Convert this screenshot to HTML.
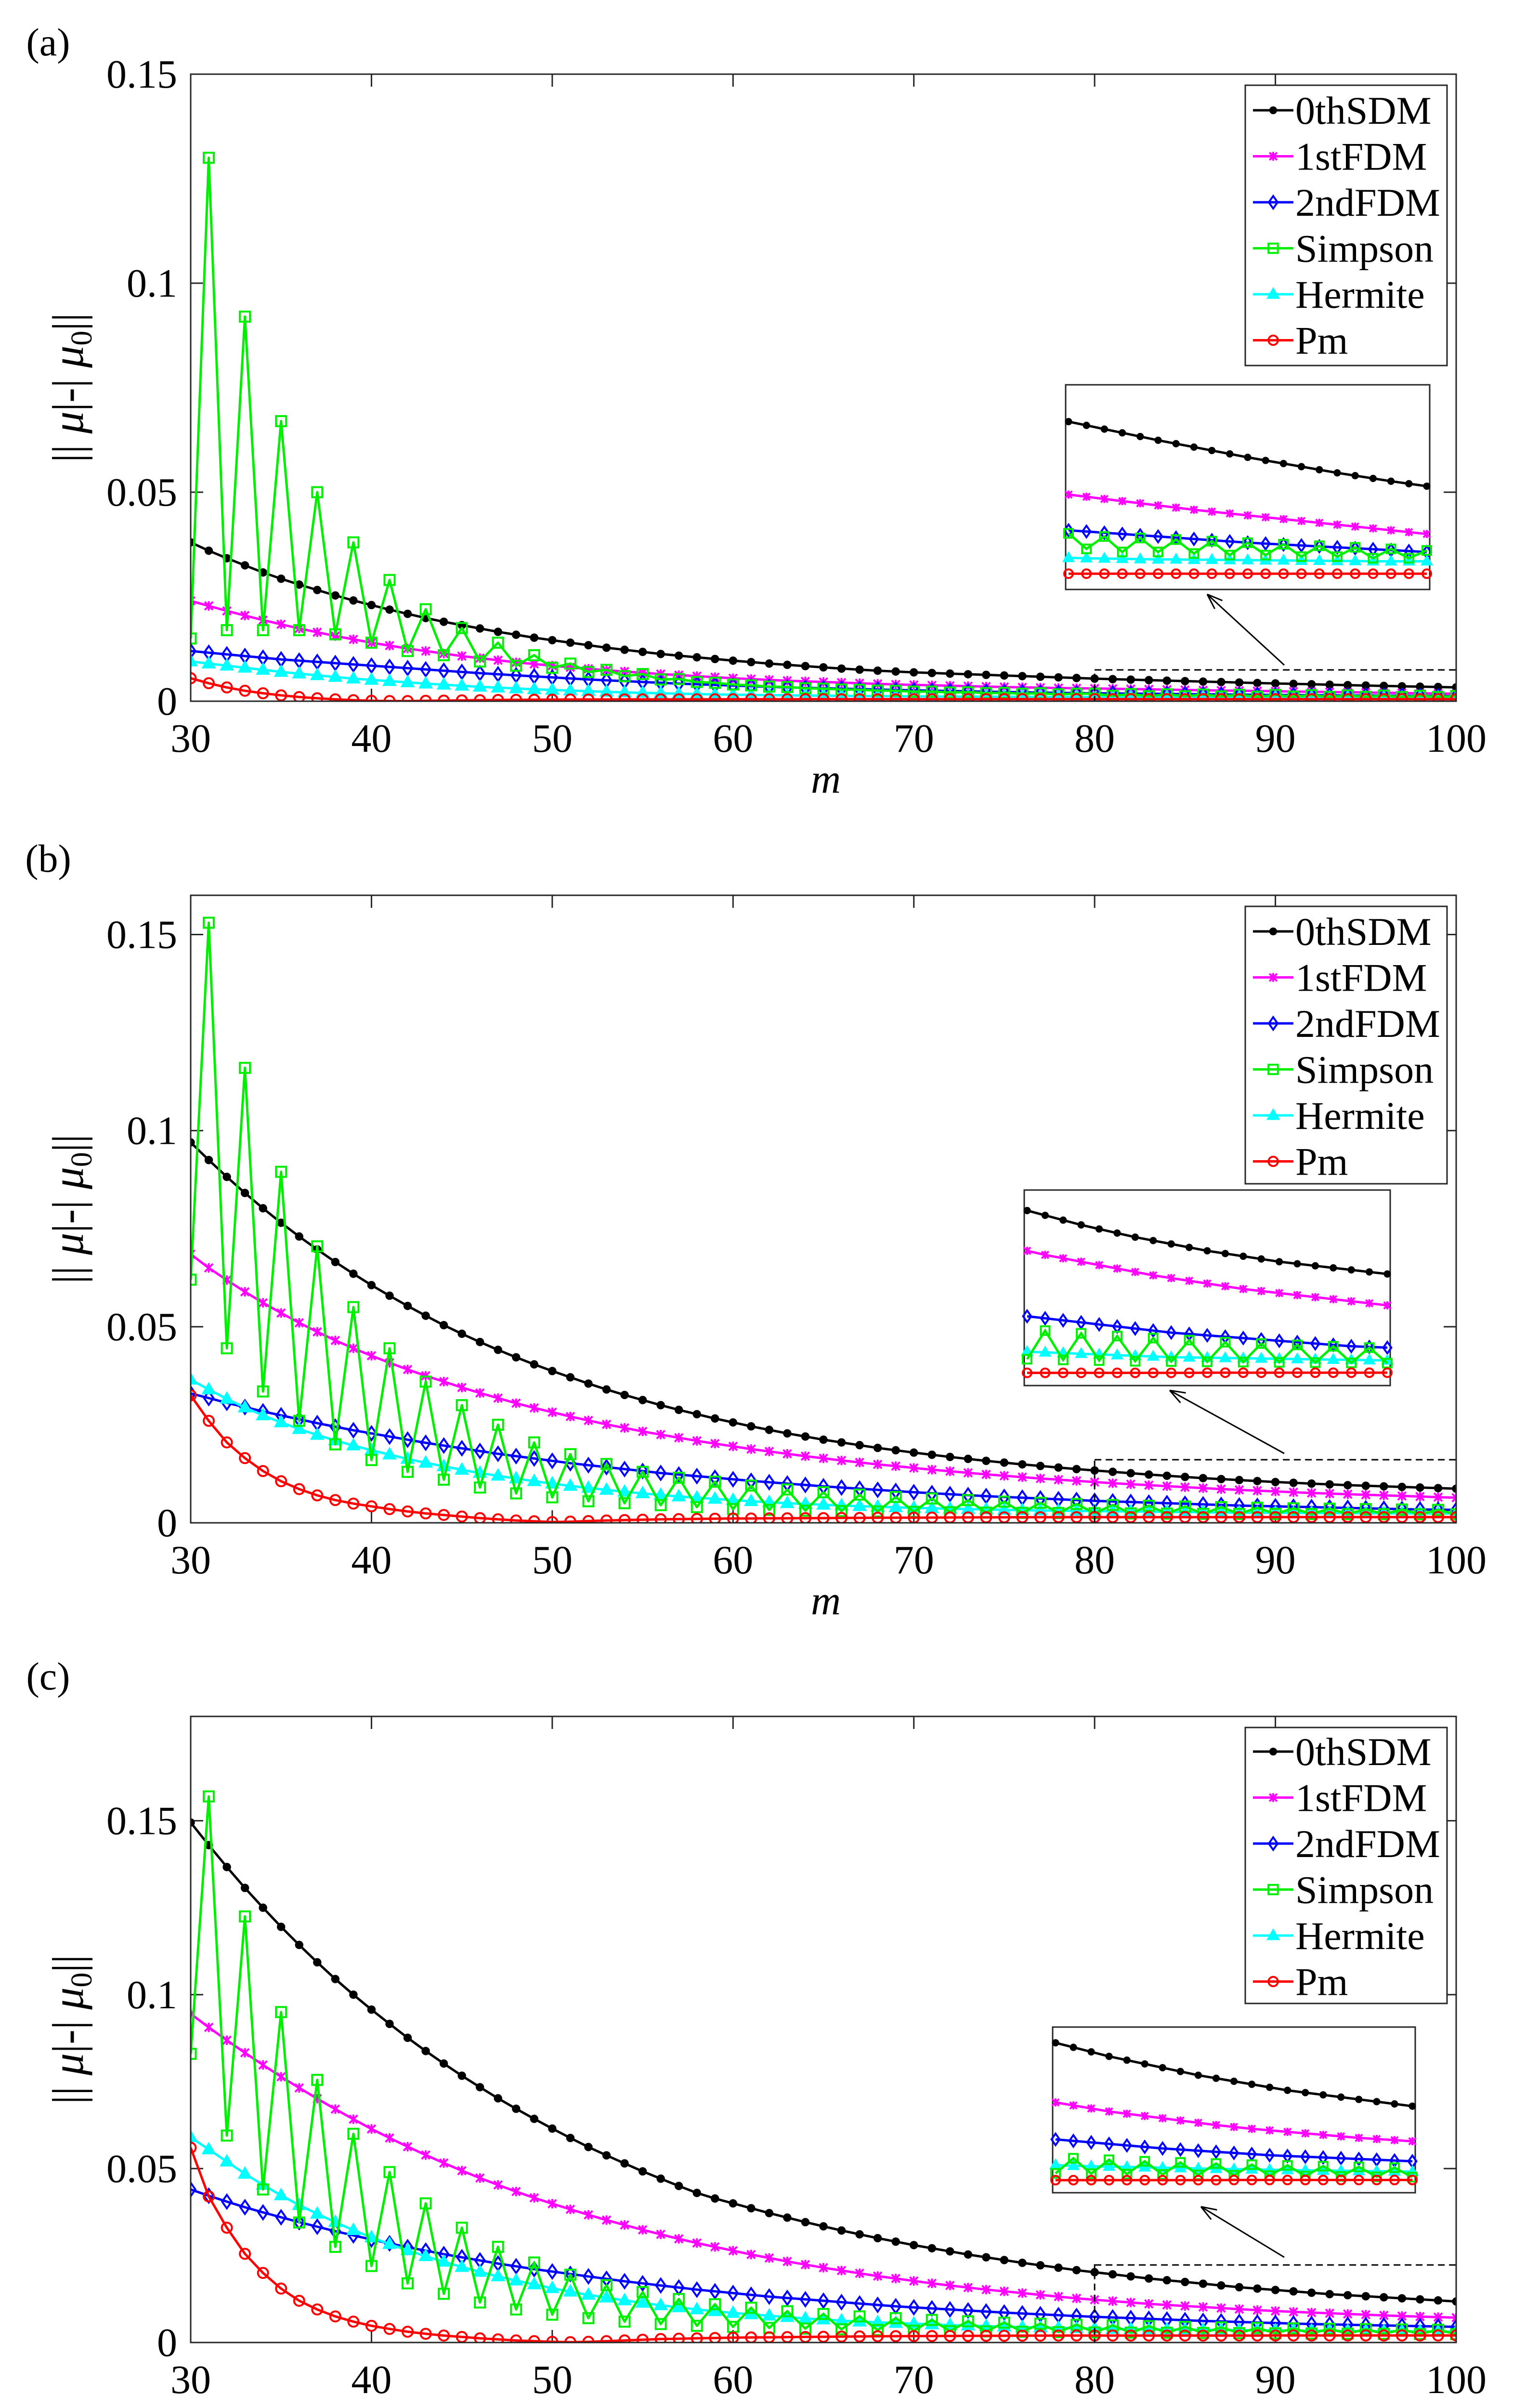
<!DOCTYPE html>
<html><head><meta charset="utf-8"><style>
html,body{margin:0;padding:0;background:#fff;width:3142px;height:5132px;overflow:hidden;}
svg{display:block;}
text{font-family:"Liberation Serif",serif;fill:#000;}
</style></head><body>
<svg id="fig" width="3142" height="5132" viewBox="0 0 3142 5132" xmlns="http://www.w3.org/2000/svg"></svg>
<script>
// m values 30..100
const mValues = [];
for (let m = 30; m <= 100; m++) mValues.push(m);
const seriesNames = ["0thSDM","1stFDM","2ndFDM","Simpson","Hermite","Pm"];
const xTicks = [30,40,50,60,70,80,90,100];

// Panel (a) values (units of 1e-3)
const aSDM0 = [38,36,34.2,32.5,30.8,29.3,27.9,26.6,25.3,24.1, 23,21.9,20.9,19.9,19,18.2,17.4,16.6,15.9,15.2, 14.6,14,13.4,12.8,12.3,11.8,11.3,10.9,10.5,10.1, 9.7,9.35,9,8.7,8.4,8.1,7.8,7.55,7.3,7.1, 6.9,6.75,6.6,6.45,6.3,6.15,6,5.85,5.7,5.55, 5.4,5.28,5.16,5.04,4.92,4.8,4.69,4.58,4.47,4.36, 4.25,4.15,4.05,3.95,3.85,3.75,3.66,3.57,3.48,3.4, 3.32];
const aFDM1 = [24,22.8,21.6,20.5,19.4,18.4,17.4,16.5,15.6,14.8, 14,13.3,12.6,12,11.4,10.8,10.3,9.8,9.3,8.9, 8.5,8.1,7.75,7.4,7.1,6.8,6.5,6.25,6,5.75, 5.5,5.3,5.1,4.9,4.75,4.6,4.45,4.3,4.15,4, 3.9,3.8,3.7,3.6,3.5,3.4,3.32,3.24,3.16,3.1, 3.05,2.98,2.91,2.84,2.77,2.7,2.63,2.56,2.5,2.44, 2.38,2.32,2.26,2.2,2.14,2.08,2.02,1.96,1.9,1.84, 1.78];
const aFDM2 = [12,11.6,11.2,10.8,10.4,10,9.7,9.4,9.1,8.8, 8.5,8.2,7.9,7.6,7.3,7,6.7,6.45,6.2,5.95, 5.7,5.45,5.2,5,4.8,4.6,4.4,4.2,4.05,3.9, 3.75,3.6,3.45,3.3,3.2,3.1,3,2.9,2.8,2.7, 2.6,2.52,2.44,2.36,2.28,2.2,2.13,2.06,2,1.95, 1.9,1.86,1.82,1.78,1.74,1.7,1.66,1.62,1.58,1.54, 1.5,1.47,1.44,1.41,1.38,1.35,1.32,1.29,1.26,1.23, 1.2];
const aSimp = [15,130,17,92,17,67,17,50,16,38, 14,29,12,22,11,17.5,9.5,14,8.5,11, 8,9,7,7.5,6,6.5,5.2,5.3,4.6,4.4, 4,3.8,3.5,3.4,3.1,3,2.8,2.75,2.55,2.5, 2.3,2.3,2.1,2.15,1.95,2,1.8,1.9,1.65,1.8, 1.8,1.3,1.7,1.2,1.65,1.2,1.6,1.15,1.55,1.1, 1.5,1.1,1.45,1.05,1.4,1.05,1.35,1,1.3,1, 1.25];
const aHerm = [9.5,9,8.5,8,7.5,7,6.6,6.2,5.8,5.4, 5.1,4.8,4.5,4.2,3.95,3.7,3.45,3.25,3.05,2.85, 2.7,2.55,2.4,2.25,2.1,2,1.9,1.8,1.7,1.62, 1.55,1.5,1.45,1.4,1.36,1.32,1.28,1.25,1.22,1.19, 1.16,1.14,1.12,1.1,1.08,1.06,1.05,1.04,1.03,1.02, 1.01,1,0.99,0.98,0.97,0.96,0.96,0.95,0.95,0.94, 0.94,0.93,0.93,0.92,0.92,0.91,0.91,0.9,0.9,0.9, 0.9];
const aPm = [5.5,4.3,3.3,2.5,1.9,1.4,1,0.7,0.45,0.25, 0.1,0.05,0.05,0.1,0.15,0.2,0.25,0.3,0.33,0.36, 0.38,0.4,0.41,0.42,0.43,0.44,0.45,0.45,0.46,0.46, 0.47,0.47,0.47,0.47,0.48,0.48,0.48,0.48,0.48,0.48, 0.49,0.49,0.49,0.49,0.49,0.49,0.49,0.49,0.49,0.49, 0.5,0.5,0.5,0.5,0.5,0.5,0.5,0.5,0.5,0.5, 0.5,0.5,0.5,0.5,0.5,0.5,0.5,0.5,0.5,0.5, 0.5];

// Panel (b)
const bSDM0 = [97,92.5,88.2,84.1,80.2,76.5,73,69.7,66.5,63.5, 60.6,57.9,55.3,52.8,50.4,48.2,46.1,44.1,42.2,40.4, 38.7,37.1,35.5,34,32.6,31.3,30,28.8,27.7,26.6, 25.6,24.6,23.7,22.8,22,21.2,20.5,19.8,19.1,18.5, 17.9,17.35,16.8,16.3,15.8,15.35,14.9,14.5,14.1,13.7, 13.35,13,12.65,12.3,12,11.7,11.4,11.15,10.9,10.65, 10.4,10.2,10,9.8,9.6,9.45,9.3,9.15,9,8.85, 8.7];
const bFDM1 = [68.5,65,61.9,58.9,56.1,53.5,51,48.7,46.5,44.5, 42.6,40.8,39.1,37.5,36,34.5,33.1,31.8,30.5,29.3, 28.2,27.1,26.1,25.1,24.2,23.3,22.5,21.7,20.9,20.2, 19.5,18.8,18.2,17.6,17,16.45,15.9,15.4,14.9,14.45, 14,13.55,13.15,12.75,12.35,12,11.65,11.3,11,10.7, 10.4,10.1,9.85,9.6,9.35,9.1,8.85,8.6,8.4,8.2, 8,7.8,7.6,7.45,7.3,7.15,7,6.85,6.7,6.55, 6.4];
const bFDM2 = [33,31.8,30.6,29.5,28.4,27.4,26.4,25.4,24.5,23.6, 22.8,22,21.2,20.4,19.7,19,18.3,17.6,17,16.4, 15.8,15.2,14.7,14.2,13.7,13.2,12.7,12.3,11.9,11.5, 11.1,10.7,10.35,10,9.65,9.3,9,8.7,8.4,8.1, 7.8,7.55,7.3,7.05,6.8,6.6,6.4,6.2,6,5.8, 5.6,5.45,5.3,5.15,5,4.85,4.7,4.55,4.4,4.3, 4.2,4.1,4,3.9,3.8,3.7,3.6,3.5,3.4,3.35, 3.3];
const bSimp = [62,153,44.5,116,33.5,89.5,26,70.5,20,55, 16,44.5,13,36,11,30,9,25,7.5,20.5, 6.5,17.5,5.5,15,5,13,4.5,11.5,4,10.5, 3.5,9.5,3.3,8.5,3.1,7.8,3,7.2,2.9,6.6, 2.8,6.2,2.7,5.8,2.6,5.4,2.55,5.1,2.5,4.8, 2.45,4.55,2.4,4.35,2.35,4.15,2.3,4,2.28,3.85, 2.26,3.7,2.24,3.6,2.22,3.5,2.2,3.4,2.18,3.3, 2.16];
const bHerm = [36.5,34,31.6,29.4,27.4,25.6,23.9,22.4,21,19.7, 18.5,17.4,16.3,15.3,14.4,13.5,12.7,12,11.3,10.6, 10,9.4,8.9,8.4,7.9,7.5,7.1,6.7,6.4,6.1, 5.8,5.5,5.25,5,4.8,4.6,4.4,4.25,4.1,3.95, 3.8,3.7,3.6,3.5,3.4,3.3,3.2,3.15,3.1,3.05, 3,2.95,2.9,2.85,2.8,2.75,2.7,2.65,2.6,2.58, 2.56,2.54,2.52,2.5,2.48,2.46,2.44,2.42,2.4,2.38, 2.36];
const bPm = [32.5,26,20.5,16.5,13.2,10.6,8.6,7,5.8,4.9, 4.2,3.5,2.9,2.4,2,1.6,1.2,0.9,0.6,0.4, 0.2,0.3,0.45,0.6,0.7,0.8,0.9,0.95,1,1.05, 1.1,1.1,1.15,1.15,1.2,1.2,1.25,1.25,1.3,1.3, 1.32,1.34,1.36,1.38,1.4,1.4,1.42,1.42,1.44,1.44, 1.45,1.45,1.45,1.45,1.45,1.45,1.45,1.45,1.45,1.45, 1.46,1.46,1.46,1.46,1.46,1.46,1.46,1.46,1.46,1.46, 1.46];

// Panel (c)
const cSDM0 = [149.5,143,136.7,130.7,125,119.5,114.3,109.3,104.5,100, 95.7,91.6,87.6,83.8,80.2,76.7,73.4,70.2,67.2,64.3, 61.5,58.8,56.2,53.8,51.5,49.2,47.1,45,43,41.4, 40,38.6,37.2,35.9,34.6,33.4,32.2,31.1,30,29, 28,27.1,26.2,25.3,24.5,23.7,22.9,22.2,21.5,20.8, 20.2,19.6,19,18.4,17.9,17.4,16.9,16.4,15.9,15.5, 15.1,14.7,14.3,13.9,13.6,13.3,13,12.7,12.4,12.1, 11.8];
const cFDM1 = [94.5,90.6,86.9,83.3,79.8,76.4,73.2,70.1,67.1,64.2, 61.4,58.8,56.3,53.9,51.6,49.4,47.3,45.3,43.4,41.6, 39.9,38.3,36.7,35.2,33.8,32.4,31.1,29.8,28.6,27.5, 26.4,25.3,24.3,23.3,22.4,21.5,20.7,19.9,19.1,18.4, 17.7,17,16.4,15.8,15.2,14.7,14.2,13.7,13.2,12.7, 12.3,11.9,11.5,11.1,10.8,10.5,10.2,9.9,9.6,9.3, 9.05,8.8,8.6,8.4,8.2,8,7.8,7.6,7.45,7.3, 7.15];
const cFDM2 = [44,42.2,40.5,38.9,37.4,36,34.6,33.3,32,30.8, 29.6,28.5,27.4,26.4,25.4,24.5,23.6,22.7,21.9,21.1, 20.4,19.7,19,18.3,17.6,17,16.4,15.8,15.2,14.7, 14.2,13.7,13.2,12.8,12.4,12,11.6,11.2,10.8,10.4, 10.1,9.8,9.5,9.2,8.9,8.6,8.35,8.1,7.85,7.6, 7.4,7.2,7,6.8,6.6,6.4,6.2,6.05,5.9,5.75, 5.6,5.45,5.3,5.2,5.1,5,4.9,4.8,4.7,4.6, 4.5];
const cSimp = [83,157,59.5,122.5,44,95,34.5,75.5,27.5,60, 22,49,17,40,14,33,11.5,27.5,9.5,23, 8,19.5,7,16.5,6,14.5,5.3,12.5,4.8,11, 4.5,10,4.2,9,4,8.2,3.8,7.5,3.6,7, 3.4,6.5,3.3,6.1,3.2,5.7,3.1,5.4,3,5.1, 2.9,4.9,2.85,4.7,2.8,4.5,2.75,4.35,2.7,4.2, 2.65,4.05,2.6,3.95,2.55,3.85,2.5,3.75,2.45,3.65, 2.4];
const cHerm = [59,55.5,52,48.5,45.3,42.3,39.5,37,34.6,32.3, 30.2,28.3,26.5,24.8,23.2,21.7,20.3,19,17.8,16.7, 15.6,14.6,13.7,12.9,12.1,11.4,10.7,10.1,9.5,9, 8.5,8.1,7.7,7.3,6.9,6.6,6.3,6,5.8,5.6, 5.4,5.2,5,4.85,4.7,4.55,4.4,4.3,4.2,4.1, 4,3.9,3.85,3.8,3.75,3.7,3.65,3.6,3.55,3.5, 3.46,3.42,3.38,3.34,3.3,3.27,3.24,3.21,3.18,3.15, 3.12];
const cPm = [56,42,33,25.5,20,15.5,12,9.5,7.5,6, 4.8,3.9,3.1,2.5,2,1.6,1.2,0.9,0.6,0.4, 0.2,0.1,0.2,0.4,0.6,0.8,1,1.1,1.2,1.3, 1.4,1.45,1.5,1.55,1.6,1.65,1.7,1.75,1.8,1.82, 1.84,1.86,1.88,1.9,1.92,1.94,1.96,1.98,2,2, 2,2,2,2,2,2,2,2,2,2, 2.02,2.02,2.02,2.02,2.02,2.02,2.02,2.02,2.02,2.02, 2.02];

const aYTicks = [0,0.05,0.1,0.15];
const bYTicks = [0,0.05,0.1,0.15];
const cYTicks = [0,0.05,0.1,0.15];
const aYTickLabels = ["0","0.05","0.1","0.15"];
const bYTickLabels = ["0","0.05","0.1","0.15"];
const cYTickLabels = ["0","0.05","0.1","0.15"];

const NS = "http://www.w3.org/2000/svg";
const svg = document.getElementById('fig');
function mk(tag, attrs, parent) {
  const e = document.createElementNS(NS, tag);
  for (const k in attrs) e.setAttribute(k, attrs[k]);
  (parent || svg).appendChild(e);
  return e;
}
const colors = ["#000000","#ff00ff","#0000ff","#00ee00","#00ffff","#ff0000"];
const L = 396, R = 3024;

function marker(g, type, x, y, c, s) {
  let e;
  if (type === 0) { e = mk('circle', {cx:x, cy:y, r:s*0.55, fill:c, stroke:c, 'stroke-width':2}, g); }
  else if (type === 1) { e = mk('path', {d:`M${x-s*0.6},${y-s*0.6}L${x+s*0.6},${y+s*0.6}M${x-s*0.6},${y+s*0.6}L${x+s*0.6},${y-s*0.6}M${x},${y-s*0.7}L${x},${y+s*0.7}`, stroke:c, 'stroke-width':4, fill:'none'}, g); }
  else if (type === 2) { e = mk('path', {d:`M${x},${y-s}L${x+s*0.7},${y}L${x},${y+s}L${x-s*0.7},${y}Z`, stroke:c, 'stroke-width':4, fill:'none'}, g); }
  else if (type === 3) { e = mk('rect', {x:x-s*0.75, y:y-s*0.75, width:s*1.5, height:s*1.5, stroke:c, 'stroke-width':4, fill:'none'}, g); }
  else if (type === 4) { e = mk('path', {d:`M${x},${y-s}L${x+s*0.95},${y+s*0.65}L${x-s*0.95},${y+s*0.65}Z`, stroke:c, 'stroke-width':2, fill:c}, g); }
  else { e = mk('circle', {cx:x, cy:y, r:s*0.75, stroke:c, 'stroke-width':4, fill:'none'}, g); }
  
  
}

function drawSeries(g, data, xf, yf, idx, ms, lw) {
  const pts = data.map((v,i)=>`${xf(mValues[i]).toFixed(1)},${yf(v).toFixed(1)}`);
  const pl = mk('polyline', {points:pts.join(' '), fill:'none', stroke:colors[idx], 'stroke-width':lw, 'stroke-linejoin':'round'}, g);
  
  
  data.forEach((v,i)=>{ marker(g, idx, xf(mValues[i]), yf(v), colors[idx], ms); });
}

function panel(cfg) {
  const {T, B, ymax, series, yTicks, yTickLabels, label, leg, inset, dash, arrow, name} = cfg;
  const g = mk('g', {});
  
  
  const xf = m => L + (m - 30) / 70 * (R - L);
  const yf = v => B - (v / 1000) / ymax * (B - T);
  const pl = mk('text', {x:100, y:label.y, 'font-size':82, 'text-anchor':'middle'}, g);
  pl.textContent = label.t;
  
  
  xTicks.forEach(t => {
    const x = xf(t);
    const tk = mk('path', {d:`M${x},${B}V${B-26}M${x},${T}V${T+26}`, stroke:'#262626', 'stroke-width':3}, g);
    
    
    const tl = mk('text', {x:x, y:B+105, 'font-size':84, 'text-anchor':'middle'}, g);
    tl.textContent = t;
    
    
  });
  yTicks.forEach((t,i) => {
    const y = B - t / ymax * (B - T);
    const tk = mk('path', {d:`M${L},${y}H${L+26}M${R},${y}H${R-26}`, stroke:'#262626', 'stroke-width':3}, g);
    
    
    const tl = mk('text', {x:L-28, y:y+28, 'font-size':84, 'text-anchor':'end'}, g);
    tl.textContent = yTickLabels[i];
    
    
  });
  const xt = mk('text', {x:(L+R)/2 + 5, y:B+190, 'font-size':86, 'font-style':'italic', 'text-anchor':'middle'}, g);
  xt.textContent = 'm';
  
  
  const yt = mk('text', {x:0, y:0, 'font-size':92, 'text-anchor':'middle', transform:`translate(172,${(T+B)/2}) rotate(-90)`}, g);
  yt.innerHTML = '|| <tspan font-style="italic">μ</tspan>|-| <tspan font-style="italic">μ</tspan><tspan font-size="62" dy="18">0</tspan><tspan dy="-18">||</tspan>';
  
  
  const cid = 'clip' + name;
  const cp = mk('clipPath', {id:cid}, g);
  mk('rect', {x:L, y:T, width:R-L, height:B-T}, cp);
  const sg = mk('g', {'clip-path':`url(#${cid})`}, g);
  
  
  [0,1,2,4,3,5].forEach(i => drawSeries(sg, series[i], xf, yf, i, 14, 5));
  const dr = mk('rect', {x:xf(80), y:dash, width:R-xf(80), height:B-dash, fill:'none', stroke:'#000', 'stroke-width':3, 'stroke-dasharray':'14,9'}, g);
  
  
  const [ax1, ay1, ax2, ay2] = arrow;
  const ang = Math.atan2(ay2-ay1, ax2-ax1);
  const ar = mk('g', {}, g);
  
  
  mk('line', {x1:ax1, y1:ay1, x2:ax2, y2:ay2, stroke:'#000', 'stroke-width':3}, ar);
  const hl = 34, hw = 0.35;
  mk('path', {d:`M${ax2},${ay2}L${ax2-hl*Math.cos(ang-hw)},${ay2-hl*Math.sin(ang-hw)}M${ax2},${ay2}L${ax2-hl*Math.cos(ang+hw)},${ay2-hl*Math.sin(ang+hw)}`, stroke:'#000', 'stroke-width':3, fill:'none'}, ar);
  const ig = mk('g', {}, g);
  
  
  mk('rect', {x:inset.x0, y:inset.y0, width:inset.x1-inset.x0, height:inset.y1-inset.y0, fill:'#fff', stroke:'#262626', 'stroke-width':3}, ig);
  const i80 = mValues.indexOf(80);
  const top = series[0][i80], bot = Math.min(...series[5].slice(i80));
  const range = (top - bot) / (inset.fTop - inset.fBot);
  const ylo = bot - inset.fBot * range;
  const ixf = m => inset.x0 + 6 + (m - 80) / 20 * (inset.x1 - inset.x0 - 12);
  const iyf = v => inset.y1 - (v - ylo) / range * (inset.y1 - inset.y0);
  [0,1,2,4,3,5].forEach(i => {
    const pts = [];
    series[i].forEach((v,k)=>{ if (mValues[k] >= 80) pts.push(`${ixf(mValues[k]).toFixed(1)},${iyf(v).toFixed(1)}`); });
    const pl2 = mk('polyline', {points:pts.join(' '), fill:'none', stroke:colors[i], 'stroke-width':5}, ig);
    
    
    series[i].forEach((v,k)=>{ if (mValues[k] >= 80) marker(ig, i, ixf(mValues[k]), iyf(v), colors[i], 12); });
  });
  const bx = mk('rect', {x:L, y:T, width:R-L, height:B-T, fill:'none', stroke:'#262626', 'stroke-width':3}, g);
  
  
  const lg = mk('g', {}, g);
  
  
  mk('rect', {x:2586, y:leg.y0, width:419, height:leg.y1-leg.y0, fill:'#fff', stroke:'#262626', 'stroke-width':3}, lg);
  seriesNames.forEach((n,i) => {
    const y = leg.first + i * 95.5;
    const e = mk('g', {}, lg);
    
    
    mk('line', {x1:2602, y1:y, x2:2686, y2:y, stroke:colors[i], 'stroke-width':5}, e);
    marker(e, i, 2644, y, colors[i], 13);
    const t = mk('text', {x:2690, y:y+28, 'font-size':82}, e);
    t.textContent = n;
  });
}

panel({name:'panel-a', T:154, B:1456, ymax:0.15, series:[aSDM0,aFDM1,aFDM2,aSimp,aHerm,aPm], yTicks:aYTicks, yTickLabels:aYTickLabels,
  label:{t:'(a)', y:115}, leg:{y0:177, y1:759, first:229}, inset:{x0:2213, x1:2969, y0:799, y1:1224, fTop:0.82, fBot:0.077},
  dash:1391, arrow:[2667,1381,2507,1234]});
panel({name:'panel-b', T:1859, B:3162, ymax:0.16, series:[bSDM0,bFDM1,bFDM2,bSimp,bHerm,bPm], yTicks:bYTicks, yTickLabels:bYTickLabels,
  label:{t:'(b)', y:1810}, leg:{y0:1882, y1:2458, first:1934}, inset:{x0:2127, x1:2887, y0:2471, y1:2877, fTop:0.895, fBot:0.065},
  dash:3031, arrow:[2667,3018,2429,2887]});
panel({name:'panel-c', T:3564, B:4864, ymax:0.18, series:[cSDM0,cFDM1,cFDM2,cSimp,cHerm,cPm], yTicks:cYTicks, yTickLabels:cYTickLabels,
  label:{t:'(c)', y:3508}, leg:{y0:3587, y1:4160, first:3637}, inset:{x0:2186, x1:2939, y0:4209, y1:4553, fTop:0.905, fBot:0.076},
  dash:4703, arrow:[2667,4687,2494,4582]});
</script>
</body></html>
